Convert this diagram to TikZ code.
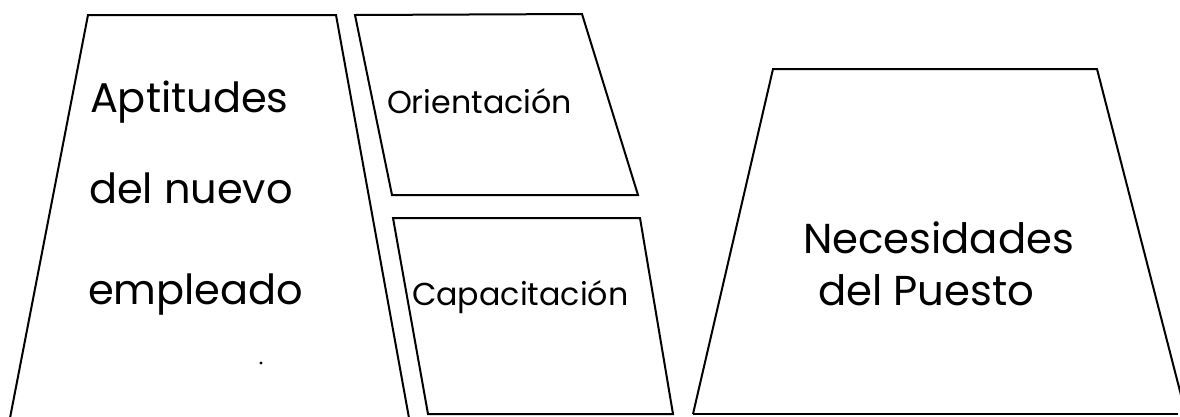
\documentclass[tikz,border=0pt]{standalone}
\usepackage{fontspec}
\setmainfont{Poppins}
\begin{document}
\begin{tikzpicture}[x=1pt,y=-1pt,
  shape line/.style={line width=2pt,line join=miter,black},
  lbl/.style={anchor=base west,inner sep=0pt,outer sep=0pt}]
\useasboundingbox (0,0) rectangle (1180,416);
\clip (0,0) rectangle (1180,416);
% left trapezoid (open at the bottom)
\draw[shape line] (10,418) -- (88,15) -- (336,15) -- (409,418);
% Orientacion box
\draw[shape line] (355,15) -- (582,14) -- (638,195) -- (392,195) -- cycle;
% Capacitacion box
\draw[shape line] (393,218) -- (640,218) -- (673,414) -- (428,414) -- cycle;
% right trapezoid
\draw[shape line] (693,414) -- (773,69) -- (1097,69) -- (1190,430);
\draw[shape line] (693,414) -- (1178,414);
% stray dot
\fill (261,363) circle (1.6pt);
% texts
\node[lbl,font=\fontsize{41.5}{41.5}\selectfont] (apt) at (90,112) {Aptitudes};
\node[lbl,font=\fontsize{41.5}{41.5}\selectfont] (del) at (89,203) {del nuevo};
\node[lbl,font=\fontsize{41.5}{41.5}\selectfont] (emp) at (88,304) {empleado};
\node[lbl,font=\fontsize{31.7}{31.7}\selectfont] (ori) at (387,113) {Orientación};
\node[lbl,font=\fontsize{31.7}{31.7}\selectfont] (cap) at (412,305) {Capacitación};
\node[lbl,font=\fontsize{41.8}{41.8}\selectfont] (nec) at (803,253) {Necesidades};
\node[lbl,font=\fontsize{41.8}{41.8}\selectfont] (pue) at (818,305) {del Puesto};
\end{tikzpicture}
\end{document}
